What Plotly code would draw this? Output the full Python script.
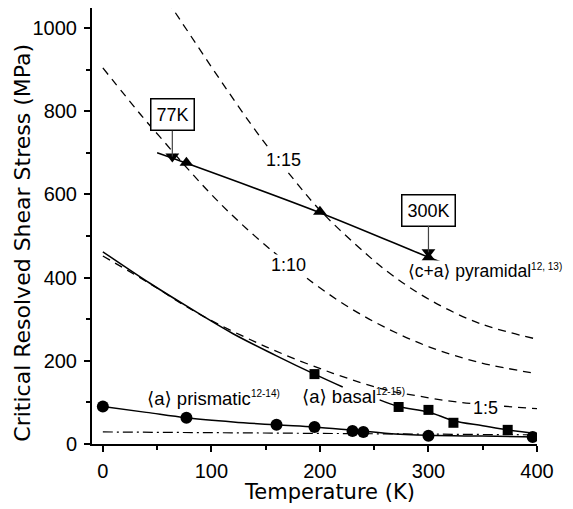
import plotly.graph_objects as go

# ---------------- data ----------------
# <a> prismatic measured points and fit
T_prism = [0, 77, 160, 195, 230, 240, 300, 396]
crss_prism = [90, 63, 46, 41, 31, 29, 20, 17]
T_prism_fit = [0, 40, 77, 120, 160, 195, 230, 260, 300, 350, 400]
crss_prism_fit = [90, 76, 63, 53, 46, 41, 33, 26, 21, 19, 17]

# <a> basal measured points and fit (fit interrupted by label)
T_basal = [195, 272.5, 300, 323, 373]
crss_basal = [168, 89, 82, 51, 34]
T_basal_fit1 = [0, 43, 80, 120, 160, 195, 221]
crss_basal_fit1 = [462, 387, 327, 265, 212, 168, 137]
T_basal_fit2 = [255, 272.5, 300, 323, 350, 373, 400]
crss_basal_fit2 = [106, 90, 77, 56, 44, 34, 25]

# <c+a> pyramidal measured points and fit
T_pyr = [77, 200, 300]
crss_pyr = [676, 558, 448]
T_pyr_fit = [50, 77, 200, 300, 315]
crss_pyr_fit = [700, 675, 556, 449, 434]

# down-triangle markers at the 77K / 300K arrows
T_mark = [64, 300]
crss_mark = [691, 461]

# ratio curves
T_r15 = [60, 64, 80, 110, 145, 170, 200, 243, 267, 301, 347, 400]
crss_r15 = [1065, 1048, 985, 868, 738, 655, 562, 456, 405, 347, 290, 252]
T_r10 = [0, 37, 52, 77, 101, 126, 157, 181, 197, 227, 261, 301, 347, 400]
crss_r10 = [904, 785, 740, 665, 597, 533, 462, 413, 381, 328, 279, 233, 196, 169]
T_r5 = [0, 43, 89, 151, 212, 261, 289, 326, 400]
crss_r5 = [452, 386, 312, 233, 170, 130, 116, 101, 85]

# dash-dot line
T_dd = [0, 200, 400]
crss_dd = [29, 26, 22]

x_ticks = [0, 100, 200, 300, 400]
y_ticks = [0, 200, 400, 600, 800, 1000]

FONT = "Liberation Sans, Arial, DejaVu Sans, sans-serif"
TFONT = "DejaVu Sans, Liberation Sans, sans-serif"
fig = go.Figure()

dash_style = dict(color="black", width=1.3, dash="8px,6px")
for tx, ty in [(T_r15, crss_r15), (T_r10, crss_r10), (T_r5, crss_r5)]:
    fig.add_trace(go.Scatter(x=tx, y=ty, mode="lines", line=dict(shape="spline", **dash_style),
                             hoverinfo="skip"))

fig.add_trace(go.Scatter(x=T_dd, y=crss_dd, mode="lines",
                         line=dict(color="black", width=1.2, dash="10px,4px,2px,4px")))

solid = dict(color="black", width=1.5, shape="spline")
for tx, ty in [(T_prism_fit, crss_prism_fit), (T_basal_fit1, crss_basal_fit1),
               (T_basal_fit2, crss_basal_fit2), (T_pyr_fit, crss_pyr_fit)]:
    fig.add_trace(go.Scatter(x=tx, y=ty, mode="lines", line=solid))

fig.add_trace(go.Scatter(x=T_prism, y=crss_prism, mode="markers",
                         marker=dict(symbol="circle", size=12, color="black")))
fig.add_trace(go.Scatter(x=T_basal, y=crss_basal, mode="markers",
                         marker=dict(symbol="square", size=10, color="black")))
fig.add_trace(go.Scatter(x=T_pyr, y=crss_pyr, mode="markers",
                         marker=dict(symbol="triangle-up", size=12, color="black")))
fig.add_trace(go.Scatter(x=T_mark, y=crss_mark, mode="markers",
                         marker=dict(symbol="triangle-down", size=12, color="black")))

# boxed temperature labels with arrows to the down triangles
for tx, ty, tail_y, text in [(T_mark[0], crss_mark[0], 791, "77K"), (T_mark[1], crss_mark[1], 562, "300K")]:
    fig.add_annotation(x=tx, y=ty, ax=tx, ay=tail_y, axref="x", ayref="y", text=text,
                       showarrow=True, arrowhead=0, arrowwidth=1.2, arrowcolor="#444",
                       standoff=0, bordercolor="black", borderwidth=1.5, borderpad=5,
                       bgcolor="white", font=dict(family=FONT, size=18, color="black"))

def label(x, y, text, anchor="center", size=18, bg="white"):
    fig.add_annotation(x=x, y=y, text=text, showarrow=False, xanchor=anchor, yanchor="middle",
                       bgcolor=bg, borderpad=0,
                       font=dict(family=FONT, size=size, color="black"))

def sup(s):
    return '<sup><span style="font-size:10px">' + s + '</span></sup>'

label(166, 683, "1:15")
label(171, 430, "1:10")
label(353, 87, "1:5")
label(280, 415, "⟨c+a⟩ pyramidal" + sup("12, 13)"), anchor="left", size=17.5)
label(40, 110, "⟨a⟩ prismatic" + sup("12-14)"), anchor="left", size=18.5, bg="rgba(0,0,0,0)")
label(183, 114, "⟨a⟩ basal" + sup("12-15)"), anchor="left", size=18.5, bg="rgba(0,0,0,0)")

# axis titles (placed as paper-anchored text)
fig.add_annotation(x=-0.158, y=0.461, xref="paper", yref="paper", showarrow=False,
                   text="Critical Resolved Shear Stress (MPa)", textangle=-90,
                   xanchor="center", yanchor="middle",
                   font=dict(family=TFONT, size=22, color="black"))
fig.add_annotation(x=0.533, y=-0.110, xref="paper", yref="paper", showarrow=False,
                   text="Temperature (K)", xanchor="center", yanchor="middle",
                   font=dict(family=TFONT, size=21, color="black"))

axis_common = dict(showline=True, linecolor="black", linewidth=2, ticks="outside",
                   ticklen=6, tickwidth=1.5, tickcolor="black", showgrid=False, zeroline=False,
                   automargin=False,
                   tickfont=dict(family=FONT, size=20, color="black"))
fig.update_xaxes(range=[-10, 400], tickvals=x_ticks,
                 minor=dict(dtick=50, tick0=0, ticks="outside", ticklen=4, tickwidth=1.5, tickcolor="black"),
                 ticklabelstandoff=2, **axis_common)
fig.update_yaxes(range=[0, 1048], tickvals=y_ticks,
                 minor=dict(dtick=100, tick0=0, ticks="outside", ticklen=4, tickwidth=1.5, tickcolor="black"),
                 ticklabelstandoff=3, **axis_common)

# the page adds an 8px body margin, so the figure is drawn 8px smaller
fig.update_layout(width=565, height=501, showlegend=False, plot_bgcolor="white",
                  paper_bgcolor="white", margin=dict(l=84, r=36, t=0, b=65))
fig.write_html("out.html")
